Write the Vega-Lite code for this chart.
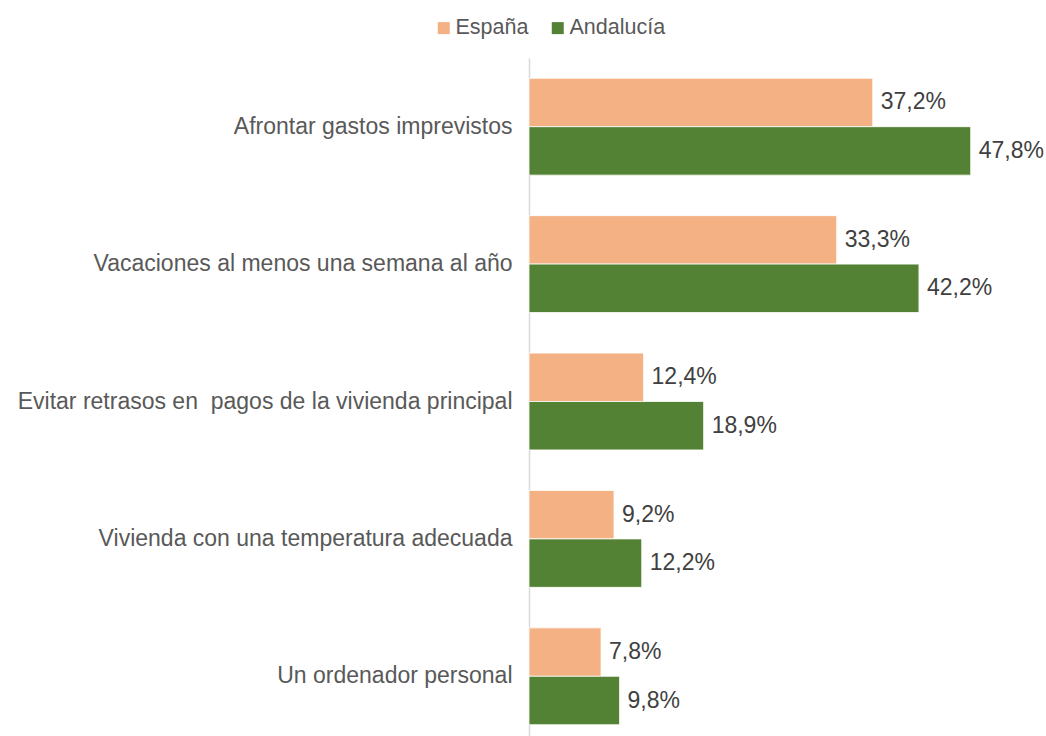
{
  "$schema": "https://vega.github.io/schema/vega-lite/v6.json",
  "autosize": {"type": "none"},
  "padding": {"left": 529, "top": 58, "right": 6, "bottom": 0},
  "width": 511,
  "height": 687,
  "config": {
    "locale": {"number": {"decimal": ",", "thousands": ".", "grouping": [3], "currency": ["", " €"]}},
    "view": {"stroke": null},
    "font": "Liberation Sans"
  },
  "data": {
    "values": [
      {"categoria": "Afrontar gastos imprevistos", "serie": "España", "valor": 0.372},
      {"categoria": "Afrontar gastos imprevistos", "serie": "Andalucía", "valor": 0.478},
      {"categoria": "Vacaciones al menos una semana al año", "serie": "España", "valor": 0.333},
      {"categoria": "Vacaciones al menos una semana al año", "serie": "Andalucía", "valor": 0.422},
      {"categoria": "Evitar retrasos en\u00a0 pagos de la vivienda principal\u00a0", "serie": "España", "valor": 0.124},
      {"categoria": "Evitar retrasos en\u00a0 pagos de la vivienda principal\u00a0", "serie": "Andalucía", "valor": 0.189},
      {"categoria": "Vivienda con una temperatura adecuada", "serie": "España", "valor": 0.092},
      {"categoria": "Vivienda con una temperatura adecuada", "serie": "Andalucía", "valor": 0.122},
      {"categoria": "Un ordenador personal", "serie": "España", "valor": 0.078},
      {"categoria": "Un ordenador personal", "serie": "Andalucía", "valor": 0.098}
    ]
  },
  "encoding": {
    "y": {
      "field": "categoria", "type": "nominal", "sort": null,
      "scale": {"paddingInner": 0.295, "paddingOuter": 0.1475},
      "axis": {
        "title": null, "ticks": false, "labelPadding": 17, "labelFontSize": 23,
        "labelColor": "#595959", "labelFont": "Liberation Sans", "labelLimit": 700,
        "domainColor": "#d9d9d9", "domainWidth": 1.5, "grid": false
      }
    },
    "yOffset": {"field": "serie", "type": "nominal", "sort": ["España", "Andalucía"], "scale": {"paddingInner": 0, "paddingOuter": 0}},
    "x": {"field": "valor", "type": "quantitative", "scale": {"domain": [0, 0.553], "nice": false}, "axis": null}
  },
  "layer": [
    {
      "mark": {"type": "bar", "stroke": "#ffffff", "strokeWidth": 0.8},
      "encoding": {
        "color": {
          "field": "serie", "type": "nominal",
          "scale": {"domain": ["España", "Andalucía"], "range": ["#F4B183", "#548235"]},
          "legend": {
            "title": null, "orient": "none", "direction": "horizontal",
            "legendX": -96, "legendY": -41,
            "symbolType": "square", "symbolSize": 144, "symbolStrokeWidth": 0,
            "labelFontSize": 21.5, "labelColor": "#595959", "labelFont": "Liberation Sans",
            "labelOffset": 1, "columnPadding": 18
          }
        }
      }
    },
    {
      "mark": {"type": "text", "align": "left", "baseline": "middle", "dx": 8, "fontSize": 23, "color": "#404040", "font": "Liberation Sans"},
      "encoding": {"text": {"field": "valor", "type": "quantitative", "format": ".1%"}}
    }
  ]
}
